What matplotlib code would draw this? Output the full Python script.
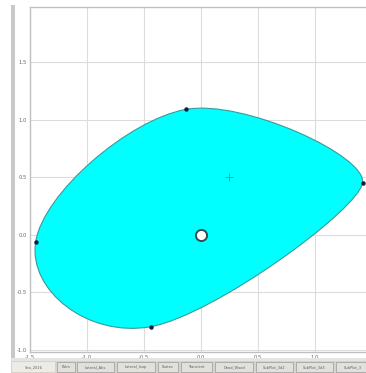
import numpy as np
import matplotlib.pyplot as plt
from matplotlib.path import Path
from matplotlib.patches import PathPatch, Rectangle

# control points of the closed envelope (left, top, right, bottom)
env_x = [-1.45, -0.13, 1.42, -0.44]
env_y = [-0.06, 1.09, 0.45, -0.80]
# tangent tension at each control point
env_k = [1.35, 1.05, 0.75, 1.15]

origin = (0.0, 0.0)
centroid = (0.25, 0.50)

xticks = [-1.5, -1.0, -0.5, 0.0, 0.5, 1.0]
yticks = [-1.0, -0.5, 0.0, 0.5, 1.0, 1.5]

tabs = ["Sea_2016", "Palm", "Lateral_Abs", "Lateral_Isop", "States", "Transient",
        "Dead_Wood", "SubPlot_3d2", "SubPlot_3d3", "SubPlot_3"]
tab_px = [(12, 55), (57, 75), (77, 114), (117, 155), (158, 178), (181, 212),
          (215, 253), (256, 293), (296, 333), (336, 370)]


def closed_spline(xs, ys, ks):
    # closed cardinal curve as cubic Bezier segments
    pts = np.column_stack([xs, ys])
    n = len(pts)
    tan = [(pts[(i + 1) % n] - pts[i - 1]) * ks[i] / 6.0 for i in range(n)]
    verts = [pts[0]]
    codes = [Path.MOVETO]
    for i in range(n):
        j = (i + 1) % n
        verts += [pts[i] + tan[i], pts[j] - tan[j], pts[j]]
        codes += [Path.CURVE4] * 3
    return Path(verts, codes)


W, H = 366, 373
fig = plt.figure(figsize=(W / 100, H / 100), dpi=100)
fig.patch.set_facecolor("white")

ax = fig.add_axes([30 / W, (H - 352) / H, (W - 30) / W, 345 / H])
ax.set_xlim(-1.5, 1.45)
ax.set_ylim(-1.02, 1.98)
ax.set_xticks(xticks)
ax.set_yticks(yticks)
ax.grid(True, color="#dcdcdc", linewidth=0.8)
ax.set_axisbelow(True)
ax.tick_params(length=0, labelsize=3.8, labelcolor="#6a6a6a", pad=2)
ax.set_xticklabels(["%.1f" % v for v in xticks])
ax.set_yticklabels(["%.1f" % v for v in yticks])
for s in ax.spines.values():
    s.set_color("#c0c0c0")
    s.set_linewidth(1.0)
ax.spines["right"].set_visible(False)

ax.add_patch(PathPatch(closed_spline(env_x, env_y, env_k), facecolor="#00ffff",
                       edgecolor="#3a9a9a", linewidth=0.8, zorder=2))
ax.plot(env_x, env_y, "o", color="#102040", markersize=2.2, zorder=3)
ax.plot(*centroid, "+", color="#4a8a8a", markersize=6, markeredgewidth=0.6, zorder=3)
ax.plot(*origin, "o", markerfacecolor="white", markeredgecolor="#2f4f4f",
        markersize=8, markeredgewidth=1.4, zorder=4)

# window frame bar on the left
fig.add_artist(Rectangle((11 / W, 5 / H), 4 / W, (H - 10) / H, transform=fig.transFigure,
                         facecolor="#c8c8c8", edgecolor="none"))
# strip under the axis and tab bar
fig.add_artist(Rectangle((11 / W, 0), 1, 15 / H, transform=fig.transFigure,
                         facecolor="#e4e4e4", edgecolor="none"))
fig.add_artist(Rectangle((11 / W, 0), 1, 12 / H, transform=fig.transFigure,
                         facecolor="#d6d3cc", edgecolor="none"))
for i, (name, (a, b)) in enumerate(zip(tabs, tab_px)):
    fc = "#ecebe6" if i == 0 else "#e2e0da"
    fig.add_artist(Rectangle((a / W, 1 / H), (b - a) / W, 10 / H, transform=fig.transFigure,
                             facecolor=fc, edgecolor="#9a9a9a" if i else "none", linewidth=0.5))
    fig.text((a + b) / 2 / W, 6 / H, name, fontsize=2.6, color="#606060",
             ha="center", va="center")

fig.savefig("out.png", dpi=100)
